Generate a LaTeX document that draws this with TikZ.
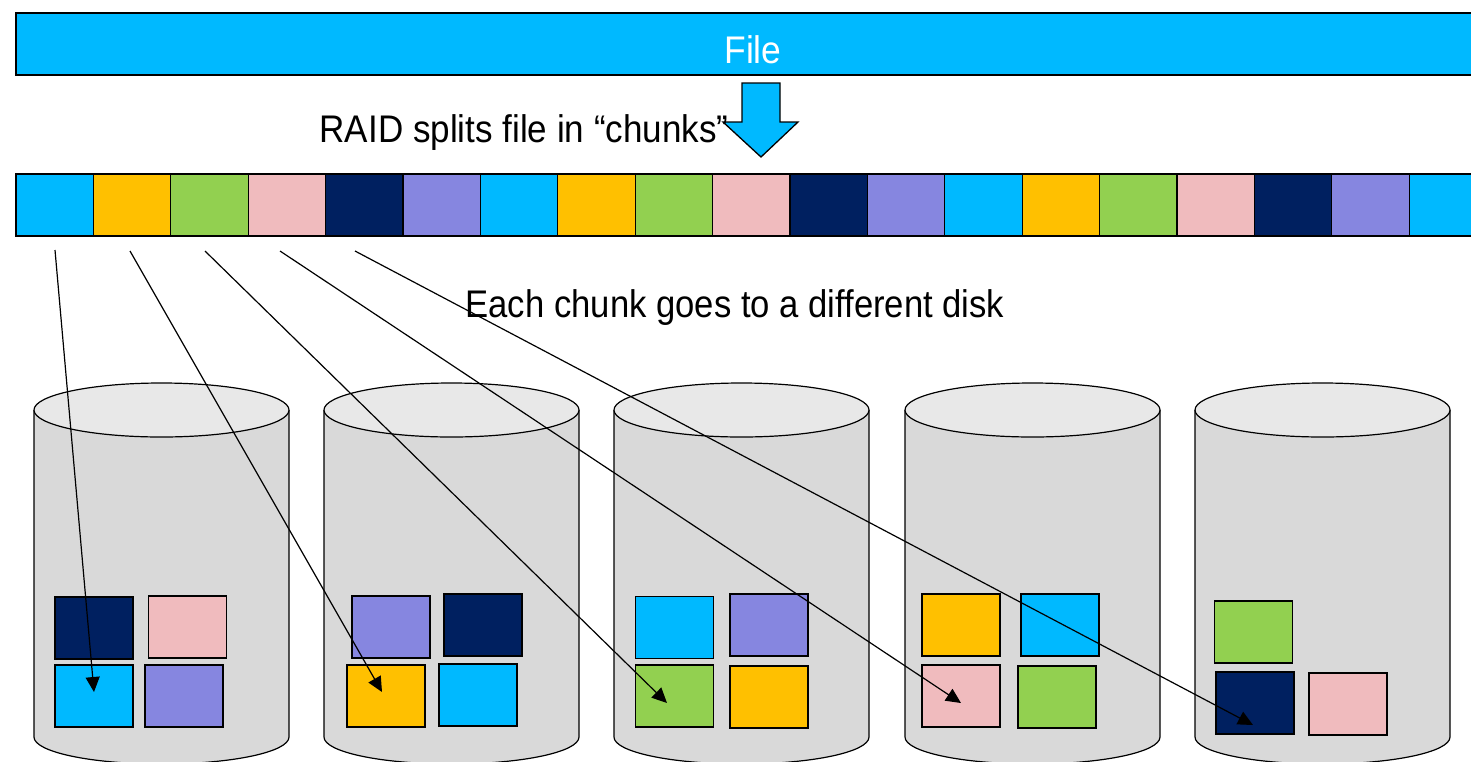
\documentclass[tikz,border=0pt]{standalone}
\usepackage{fontspec}
\setmainfont{Liberation Sans}
\usetikzlibrary{arrows.meta}

\definecolor{chunk0}{HTML}{00B9FF}
\definecolor{chunk1}{HTML}{FFC000}
\definecolor{chunk2}{HTML}{92D050}
\definecolor{chunk3}{HTML}{F0BBBE}
\definecolor{chunk4}{HTML}{002060}
\definecolor{chunk5}{HTML}{8686E0}
\definecolor{diskbody}{HTML}{D9D9D9}
\definecolor{disktop}{HTML}{E8E8E8}

\begin{document}
\begin{tikzpicture}[x=1pt, y=-1pt, line width=1.2pt,
    every node/.style={inner sep=0pt, font=\fontsize{38.5}{44}\selectfont},
    blk/.style={rectangle, draw, line width=1.3pt,
                minimum width=78pt, minimum height=62pt},
  ]
\tikzset{>={Triangle[length=15pt, width=14pt]}}
  \useasboundingbox (0,0) rectangle (1471,761);
  \clip (0,0) rectangle (1471,761);

  % file bar and split arrow
  \node[blk, fill=chunk0, text=white, minimum width=1474pt,
        text height=38pt, text depth=0pt] (file) at (753,44) {\scalebox{0.92}[1]{File}};
  \filldraw[fill=chunk0, line width=1.3pt] (742,83) -- (780,83) -- (780,122)
    -- (798,122) -- (761,157) -- (723,122) -- (742,122) -- cycle;
  \node[anchor=base west] (split) at (319,142)
    {\scalebox{0.91}[1]{RAID splits file in “chunks”}};

  % chunks
  \foreach \i in {0,...,18} {
    \pgfmathtruncatemacro{\k}{mod(\i,6)}
    \node[blk, minimum width=77.4pt, fill=chunk\k] (ch\i) at (54.7+77.4*\i,205) {};
  }
  \node[anchor=base west] (each) at (465,317)
    {\scalebox{0.9}[1]{Each chunk goes to a different disk}};

  % disks
  \foreach \cx in {161.5, 451.5, 741.5, 1032.5, 1322.5} {
    \filldraw[fill=diskbody] (\cx-127.5,410) -- (\cx-127.5,737)
      arc[start angle=180, end angle=0, x radius=127.5, y radius=27] -- (\cx+127.5,410);
    \filldraw[fill=disktop] (\cx,410) ellipse[x radius=127.5, y radius=27];
  }

  \node[blk, fill=chunk4] (d1nav) at (94,628)    {};
  \node[blk, fill=chunk3] (d1pnk) at (187.5,627) {};
  \node[blk, fill=chunk0] (d1cyn) at (94,696)    {};
  \node[blk, fill=chunk5] (d1prp) at (184,696)   {};

  \node[blk, fill=chunk5] (d2prp) at (391,627)   {};
  \node[blk, fill=chunk4] (d2nav) at (483,625)   {};
  \node[blk, fill=chunk1] (d2yel) at (386,696)   {};
  \node[blk, fill=chunk0] (d2cyn) at (478,695)   {};

  \node[blk, fill=chunk0] (d3cyn) at (674.5,627.5) {};
  \node[blk, fill=chunk5] (d3prp) at (769,625)   {};
  \node[blk, fill=chunk2] (d3grn) at (674.5,696) {};
  \node[blk, fill=chunk1] (d3yel) at (769,697)   {};

  \node[blk, fill=chunk1] (d4yel) at (961,625)   {};
  \node[blk, fill=chunk0] (d4cyn) at (1060,625)  {};
  \node[blk, fill=chunk3] (d4pnk) at (961,696)   {};
  \node[blk, fill=chunk2] (d4grn) at (1057,697)  {};

  \node[blk, fill=chunk2] (d5grn) at (1253.5,632) {};
  \node[blk, fill=chunk4] (d5nav) at (1255,703)  {};
  \node[blk, fill=chunk3] (d5pnk) at (1348,704)  {};

  % striping arrows
  \coordinate (s1) at (55,250);
  \coordinate (s2) at (130,251);
  \coordinate (s3) at (205,251);
  \coordinate (s4) at (280,251);
  \coordinate (s5) at (355,251);
  \coordinate (t1) at (94,692);
  \coordinate (t2) at (382,692);
  \coordinate (t3) at (667,703);
  \coordinate (t4) at (961,703);
  \coordinate (t5) at (1253,725);

  \draw[->] (s1) -- (t1);
  \draw[->] (s2) -- (t2);
  \draw[->] (s3) -- (t3);
  \draw[->] (s4) -- (t4);
  \draw[->] (s5) -- (t5);
\end{tikzpicture}
\end{document}
